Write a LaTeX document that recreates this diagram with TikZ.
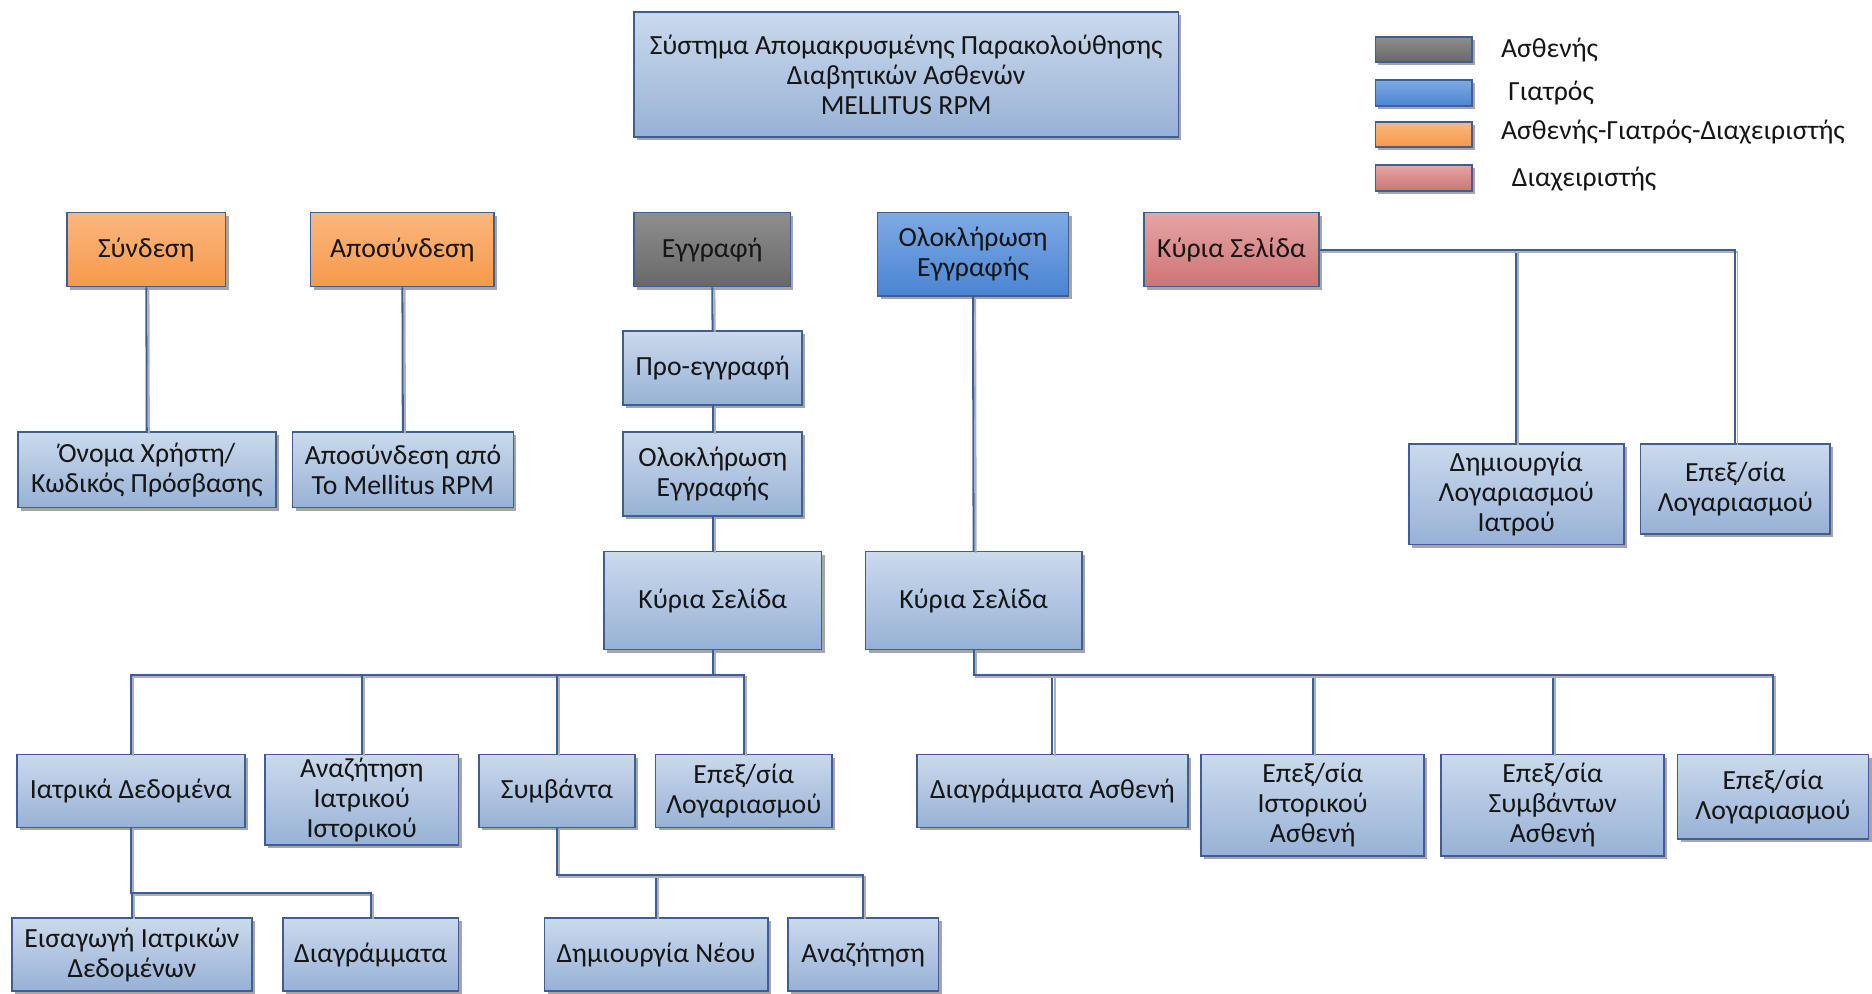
\documentclass[tikz,border=0pt]{standalone}
\usepackage{fontspec}
\setmainfont{Carlito}
\usetikzlibrary{shadows}
\definecolor{bordc}{HTML}{3E5F93}
\definecolor{connc}{HTML}{3A5E9C}
\definecolor{shc}{HTML}{B0B0B0}
\definecolor{txtc}{HTML}{151515}
\definecolor{lbtop}{HTML}{CBDAEC}
\definecolor{lbbot}{HTML}{97B1D6}
\definecolor{grtop}{HTML}{8E8E8E}
\definecolor{grbot}{HTML}{686868}
\definecolor{bltop}{HTML}{7DAAE4}
\definecolor{blbot}{HTML}{4A84D2}
\definecolor{ortop}{HTML}{FBB77E}
\definecolor{orbot}{HTML}{F6994B}
\definecolor{rdtop}{HTML}{E6A5A5}
\definecolor{rdbot}{HTML}{CD7474}
\newcommand\mkbox[7]{\node[#2, minimum width={(#5-#3)*0.5pt}, minimum height={(#6-#4)*0.5pt}] (#1) at ({(#3+#5)/2},{(#4+#6)/2}) {#7};}
\tikzset{
  base/.style={draw=bordc, line width=0.7pt, rectangle, inner sep=0pt, align=center,
    text=txtc, font=\fontsize{11.6}{12.6}\selectfont,
    drop shadow={shadow xshift=1.3pt, shadow yshift=-1.3pt, fill=black, opacity=0.35}},
  lbox/.style={base, top color=lbtop, bottom color=lbbot},
  gbox/.style={base, top color=grtop, bottom color=grbot},
  bbox/.style={base, top color=bltop, bottom color=blbot},
  obox/.style={base, top color=ortop, bottom color=orbot},
  rbox/.style={base, top color=rdtop, bottom color=rdbot},
  conn/.style={draw=connc, line width=0.85pt,
    preaction={draw=shc, line width=0.8pt, transform canvas={xshift=0.9pt, yshift=-0.9pt}}},
  legtxt/.style={anchor=west, inner sep=0pt, text=txtc, font=\fontsize{11.6}{12.6}\selectfont}
}
\begin{document}
\begin{tikzpicture}[x=0.5pt, y=-0.5pt]
\useasboundingbox (0,0) rectangle (1568,832);
\fill[white] (0,0) rectangle (1568,832);

% title
\mkbox{title}{lbox}{531}{10}{987}{115}{Σύστημα Απομακρυσμένης Παρακολούθησης\\Διαβητικών Ασθενών\\MELLITUS RPM}

% legend
\mkbox{lg1}{gbox}{1152}{31}{1233}{52}{}
\mkbox{lg2}{bbox}{1152}{67}{1233}{89}{}
\mkbox{lg3}{obox}{1152}{102}{1233}{123}{}
\mkbox{lg4}{rbox}{1152}{138}{1233}{160}{}
\node[legtxt] (lt1) at (1257,42) {Ασθενής};
\node[legtxt] (lt2) at (1263,78) {Γιατρός};
\node[legtxt] (lt3) at (1257,111) {Ασθενής-Γιατρός-Διαχειριστής};
\node[legtxt] (lt4) at (1266,150) {Διαχειριστής};

% top row
\mkbox{syn}{obox}{56}{178}{189}{240}{Σύνδεση}
\mkbox{apos}{obox}{260}{178}{414}{240}{Αποσύνδεση}
\mkbox{eggr}{gbox}{531}{178}{662}{240}{Εγγραφή}
\mkbox{olokD}{bbox}{735}{178}{895}{248}{Ολοκλήρωση\\Εγγραφής}
\mkbox{kyriaA}{rbox}{958}{178}{1105}{240}{Κύρια Σελίδα}

% second level
\mkbox{proegg}{lbox}{522}{277}{672}{339}{Προ-εγγραφή}
\mkbox{onoma}{lbox}{15}{362}{231}{425}{Όνομα Χρήστη/\\Κωδικός Πρόσβασης}
\mkbox{aposapo}{lbox}{245}{362}{430}{425}{Αποσύνδεση από\\Το Mellitus RPM}
\mkbox{olokL}{lbox}{522}{362}{672}{432}{Ολοκλήρωση\\Εγγραφής}
\mkbox{dimLog}{lbox}{1180}{372}{1360}{456}{Δημιουργία\\Λογαριασμού\\Ιατρού}
\mkbox{epLogA}{lbox}{1374}{372}{1533}{447}{Επεξ/σία\\Λογαριασμού}
\mkbox{kyriaL}{lbox}{506}{462}{688}{544}{Κύρια Σελίδα}
\mkbox{kyriaR}{lbox}{725}{462}{906}{544}{Κύρια Σελίδα}

% children row
\mkbox{iatr}{lbox}{14}{632}{205}{693}{Ιατρικά Δεδομένα}
\mkbox{anaz}{lbox}{222}{632}{384}{708}{Αναζήτηση\\Ιατρικού\\Ιστορικού}
\mkbox{symv}{lbox}{401}{632}{532}{693}{Συμβάντα}
\mkbox{epLogL}{lbox}{549}{632}{697}{693}{Επεξ/σία\\Λογαριασμού}
\mkbox{diagA}{lbox}{768}{632}{995}{693}{Διαγράμματα Ασθενή}
\mkbox{epIst}{lbox}{1006}{632}{1193}{717}{Επεξ/σία\\Ιστορικού\\Ασθενή}
\mkbox{epSym}{lbox}{1207}{632}{1394}{717}{Επεξ/σία\\Συμβάντων\\Ασθενή}
\mkbox{epLogR}{lbox}{1405}{632}{1565}{703}{Επεξ/σία\\Λογαριασμού}

% bottom row
\mkbox{eisag}{lbox}{10}{769}{211}{830}{Εισαγωγή Ιατρικών\\Δεδομένων}
\mkbox{diagr}{lbox}{237}{769}{384}{830}{Διαγράμματα}
\mkbox{dimNeo}{lbox}{456}{769}{643}{830}{Δημιουργία Νέου}
\mkbox{anazS}{lbox}{660}{769}{786}{830}{Αναζήτηση}

% junction coordinates
\coordinate (bL) at (kyriaL.south |- 0,565);
\coordinate (bR) at (kyriaR.south |- 0,565);
\coordinate (bI) at (iatr.south |- 0,748);
\coordinate (bS) at (symv.south |- 0,733);

% connectors
\draw[conn] (syn) -- (onoma);
\draw[conn] (apos) -- (aposapo);
\draw[conn] (eggr) -- (proegg);
\draw[conn] (proegg) -- (olokL);
\draw[conn] (olokL) -- (kyriaL);
\draw[conn] (olokD.south) -- (kyriaR.north);
\draw[conn] (kyriaA.east) -| (dimLog.north);
\draw[conn] (kyriaA.east) -| (epLogA.north);
\draw[conn] (kyriaL.south) -- (bL) -| (iatr.north);
\draw[conn] (bL) -| (anaz.north);
\draw[conn] (bL) -| (symv.north);
\draw[conn] (bL) -| (epLogL.north);
\draw[conn] (kyriaR.south) -- (bR) -| (diagA.north);
\draw[conn] (bR) -| (epIst.north);
\draw[conn] (bR) -| (epSym.north);
\draw[conn] (bR) -| (epLogR.north);
\draw[conn] (iatr.south) -- (bI) -| (eisag.north);
\draw[conn] (bI) -| (diagr.north);
\draw[conn] (symv.south) -- (bS) -| (dimNeo.north);
\draw[conn] (bS) -| (anazS.north);
\end{tikzpicture}
\end{document}
